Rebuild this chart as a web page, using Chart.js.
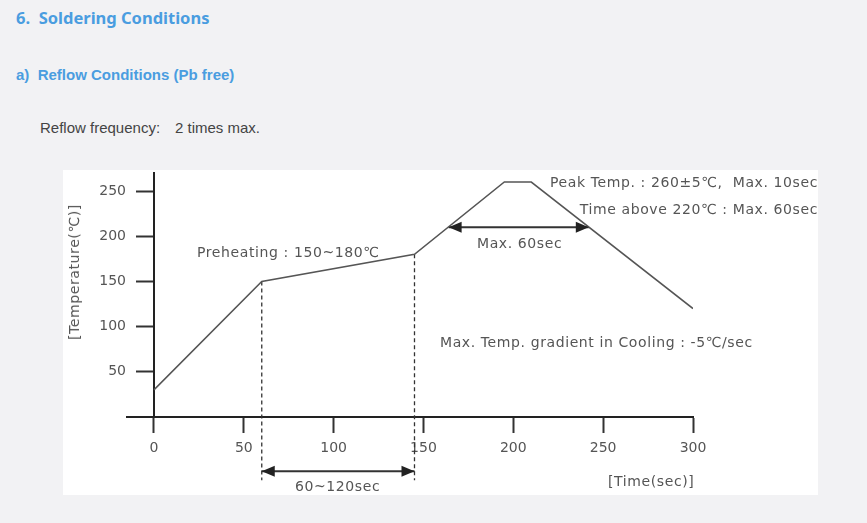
<!DOCTYPE html>
<html>
<head>
<meta charset="utf-8">
<script src="https://cdn.jsdelivr.net/npm/chart.js@4"></script>
<style>
  body { margin: 0; background: #f2f2f4; }
  #page { position: relative; width: 867px; height: 523px; overflow: hidden; }
  .h1 { position: absolute; left: 16px; top: 6px; font: bold 16.5px "Noto Sans", sans-serif; color: #4a9de0; white-space: pre; }
  .h2 { position: absolute; left: 16px; top: 66px; font: bold 15px "Liberation Sans", Arial, sans-serif; color: #4a9de0; white-space: pre; }
  .p  { position: absolute; top: 119px; font: 15px "Liberation Sans", Arial, sans-serif; color: #444; white-space: pre; }
  #box { position: absolute; left: 63px; top: 170px; width: 755px; height: 325px; background: #fff; }
  canvas { position: absolute; left: 0; top: 0; }
  .t { position: absolute; font: 14px "DejaVu Sans", "Noto Sans CJK KR", sans-serif; color: #555; line-height: 14px; white-space: pre; letter-spacing: 0.6px; }
</style>
</head>
<body>
<div id="page">
  <div class="h1">6.  Soldering Conditions</div>
  <div class="h2">a)  Reflow Conditions (Pb free)</div>
  <div class="p" style="left:40px;">Reflow frequency:</div>
  <div class="p" style="left:175px;">2 times max.</div>
  <div id="box"></div>
  <canvas id="reflowChart" width="867" height="523"></canvas>
  <div class="t" style="right:49px; top:175px;">Peak Temp. : 260±5℃,  Max. 10sec</div>
  <div class="t" style="right:49px; top:202px;">Time above 220℃ : Max. 60sec</div>
  <div class="t" style="left:197px; top:245px;">Preheating : 150~180℃</div>
  <div class="t" style="left:477px; top:236px;">Max. 60sec</div>
  <div class="t" style="left:440px; top:335px;">Max. Temp. gradient in Cooling : -5℃/sec</div>
  <div class="t" style="left:295px; top:479px;">60~120sec</div>
  <div class="t" style="left:608px; top:474px;">[Time(sec)]</div>
  <div class="t" style="left:74px; top:272px; transform: translate(-50%,-50%) rotate(-90deg);">[Temperature(℃)]</div>
</div>
<script>
// reflow profile
const timeSec = [0, 60, 145, 195, 210, 300];
const tempC = [30, 150, 180, 260, 260, 120];

// preheating markers
const preheatX = [60, 145];
const preheatTop = [150, 180];
const dashBottom = -70;
const preheatArrowY = -60;

// time above liquidus arrow
const peakArrowX = [164, 242];
const peakArrowY = 210;

const xTicks = [0, 50, 100, 150, 200, 250, 300];
const yTicks = [50, 100, 150, 200, 250];

function pts(xs, ys) {
  return xs.map((x, i) => ({x: x, y: Array.isArray(ys) ? ys[i] : ys}));
}

// points below the chart area are not drawn by chart.js, so the heads are drawn here
const arrowHeads = {
  id: 'arrowHeads',
  afterDatasetsDraw(chart) {
    const ctx = chart.ctx;
    chart.data.datasets.forEach((ds, i) => {
      if (!ds.arrows) return;
      const el = chart.getDatasetMeta(i).data;
      const a = el[0], b = el[el.length - 1];
      [[a, -1], [b, 1]].forEach(([p, dir]) => {
        ctx.save();
        ctx.fillStyle = '#222';
        ctx.beginPath();
        ctx.moveTo(p.x, p.y);
        ctx.lineTo(p.x - dir * 13, p.y - 5.5);
        ctx.lineTo(p.x - dir * 13, p.y + 5.5);
        ctx.closePath();
        ctx.fill();
        ctx.restore();
      });
    });
  }
};

const dashStyle = {borderColor: '#333', borderWidth: 1.3, borderDash: [4, 3], pointRadius: 0, clip: false};
const arrowStyle = {borderColor: '#333', borderWidth: 2, pointRadius: 0, clip: false, arrows: true};
const tickFont = {family: 'DejaVu Sans', size: 14};

new Chart(document.getElementById('reflowChart'), {
  type: 'line',
  data: {
    datasets: [
      {data: pts(timeSec, tempC), borderColor: '#555', borderWidth: 1.5, pointRadius: 0, tension: 0},
      Object.assign({data: [{x: preheatX[0], y: preheatTop[0]}, {x: preheatX[0], y: dashBottom}]}, dashStyle),
      Object.assign({data: [{x: preheatX[1], y: preheatTop[1]}, {x: preheatX[1], y: dashBottom}]}, dashStyle),
      Object.assign({data: pts(preheatX, preheatArrowY)}, arrowStyle),
      Object.assign({data: pts(peakArrowX, peakArrowY)}, arrowStyle)
    ]
  },
  options: {
    responsive: false,
    animation: false,
    layout: {padding: {left: 127, right: 174, top: 173, bottom: 106}},
    plugins: {legend: {display: false}, tooltip: {enabled: false}},
    scales: {
      x: {
        type: 'linear', min: -15, max: 300, position: {y: 0},
        afterBuildTicks: s => { s.ticks = xTicks.map(v => ({value: v})); },
        grid: {drawOnChartArea: false, tickLength: 15, tickColor: '#333', tickWidth: 2},
        border: {color: '#222', width: 2},
        ticks: {color: '#555', padding: 8, font: tickFont}
      },
      y: {
        type: 'linear', min: 0, max: 270, position: {x: 0},
        afterBuildTicks: s => { s.ticks = yTicks.map(v => ({value: v})); },
        grid: {drawOnChartArea: false, tickLength: 17, tickColor: '#333', tickWidth: 2},
        border: {color: '#222', width: 2},
        // labels of an axis placed at x=0 are right-aligned on the axis line, so pad them off it
        ticks: {color: '#555', font: tickFont, callback: v => v + '\u2002\u2002\u2002\u2002'}
      }
    }
  },
  plugins: [arrowHeads]
});
</script>
</body>
</html>
